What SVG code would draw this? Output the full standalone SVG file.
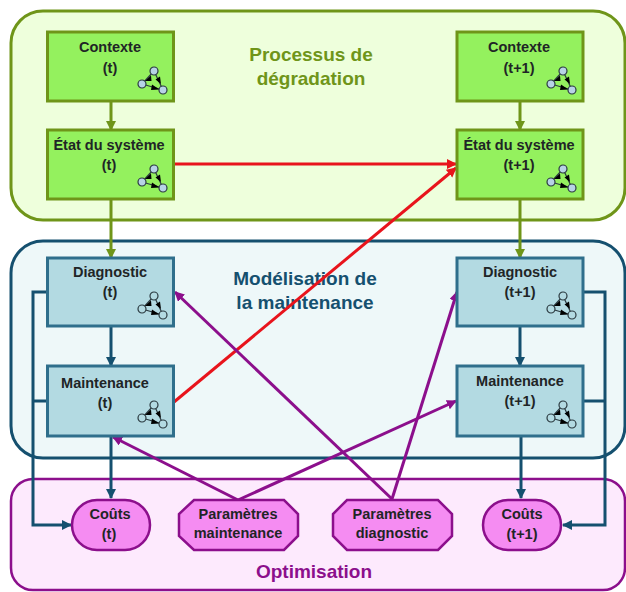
<svg xmlns="http://www.w3.org/2000/svg" width="626" height="592" viewBox="0 0 626 592">
<style>
text{font-family:"Liberation Sans",Arial,sans-serif;font-weight:700;text-anchor:middle}
.n{font-size:14.500px;fill:#1f2526}
.h{font-size:19px}
.b{stroke-width:3px}
.g{fill:#94f15e;stroke:#6f9519}
.t{fill:#b3dae2;stroke:#2f6f8c}
.p{fill:#f58cf2;stroke:#8c0f8c;stroke-width:2.500px}
.ln{fill:none;stroke-width:3px}
.ic{stroke:#2b3a40;stroke-width:1.200px}
</style>
<defs>
<marker id="ao" markerUnits="userSpaceOnUse" markerWidth="12" markerHeight="12" refX="9" refY="5" orient="auto"><path d="M0 0L10 5L0 10Z" fill="#6f9519"/></marker>
<marker id="an" markerUnits="userSpaceOnUse" markerWidth="12" markerHeight="12" refX="9" refY="5" orient="auto"><path d="M0 0L10 5L0 10Z" fill="#15506f"/></marker>
<marker id="ar" markerUnits="userSpaceOnUse" markerWidth="12" markerHeight="12" refX="9" refY="5" orient="auto"><path d="M0 0L10 5L0 10Z" fill="#e8141c"/></marker>
<marker id="ap" markerUnits="userSpaceOnUse" markerWidth="12" markerHeight="12" refX="9" refY="5" orient="auto"><path d="M0 0L10 5L0 10Z" fill="#8c0f8c"/></marker>
<g id="icon">
<path d="M12 1L0 14M12 1L21 20M0 14L21 20" fill="none"/>
<path d="M3 11L9 5.500L9.500 11Z M19 14L13.500 9.500L18 6.500Z M17.500 19.500L9 20L10 14.500Z" fill="#000" stroke="none"/>
<circle cx="12" cy="1" r="4"/><circle cx="0" cy="14" r="4"/><circle cx="21" cy="20" r="4"/>
</g>
</defs>
<g id="panels">
<rect id="panel-degradation" x="11" y="11" width="614" height="209" rx="32" fill="#eeffdc" stroke="#6f9519" stroke-width="3"/>
<rect id="panel-maintenance" x="11" y="241" width="614" height="217" rx="32" fill="#eef8f9" stroke="#15506f" stroke-width="3"/>
<rect id="panel-optimisation" x="11" y="479" width="614" height="111" rx="22" fill="#fdeafd" stroke="#8c0f8c" stroke-width="2.500"/>
<text class="h" x="311" y="61" fill="#6f9519">Processus de</text>
<text class="h" x="311" y="85" fill="#6f9519">dégradation</text>
<text class="h" x="305" y="285" fill="#15506f">Modélisation de</text>
<text class="h" x="305" y="309" fill="#15506f">la maintenance</text>
<text class="h" x="314" y="578" fill="#8c0f8c">Optimisation</text>
</g>
<g id="connectors" class="ln">
<path d="M111 101V130" stroke="#6f9519" marker-end="url(#ao)"/>
<path d="M111 199V258" stroke="#6f9519" marker-end="url(#ao)"/>
<path d="M520 101V130" stroke="#6f9519" marker-end="url(#ao)"/>
<path d="M520 199V258" stroke="#6f9519" marker-end="url(#ao)"/>
<path d="M111 326V366" stroke="#15506f" marker-end="url(#an)"/>
<path d="M111 436V498" stroke="#15506f" marker-end="url(#an)"/>
<path d="M520 326V366" stroke="#15506f" marker-end="url(#an)"/>
<path d="M521 436V498" stroke="#15506f" marker-end="url(#an)"/>
<path d="M47 292H33V525H71" stroke="#15506f" marker-end="url(#an)"/>
<path d="M47 401H33" stroke="#15506f"/>
<path d="M583 292H605V525H563" stroke="#15506f" marker-end="url(#an)"/>
<path d="M583 401H605" stroke="#15506f"/>
<path d="M174 164H456" stroke="#e8141c" marker-end="url(#ar)"/>
<path d="M174 402L456 168" stroke="#e8141c" marker-end="url(#ar)"/>
<path d="M238 500L113 437" stroke="#8c0f8c" marker-end="url(#ap)"/>
<path d="M238 500L456 401" stroke="#8c0f8c" marker-end="url(#ap)"/>
<path d="M392 499L175 292" stroke="#8c0f8c" marker-end="url(#ap)"/>
<path d="M392 499L457 292" stroke="#8c0f8c" marker-end="url(#ap)"/>
</g>
<g id="contexte-t"><rect class="g b" x="47.500" y="32" width="126" height="69"/><text class="n" x="110" y="52">Contexte</text><text class="n" x="110" y="73">(t)</text><use href="#icon" x="142" y="70" fill="#b7d3e6" class="ic"/></g>
<g id="etat-t"><rect class="g b" x="47.500" y="130" width="126" height="69"/><text class="n" x="109" y="150">État du système</text><text class="n" x="109" y="170">(t)</text><use href="#icon" x="142" y="168" fill="#b7d3e6" class="ic"/></g>
<g id="contexte-t1"><rect class="g b" x="457" y="32" width="126" height="69"/><text class="n" x="519" y="52">Contexte</text><text class="n" x="519" y="73">(t+1)</text><use href="#icon" x="551" y="70" fill="#b7d3e6" class="ic"/></g>
<g id="etat-t1"><rect class="g b" x="457" y="130" width="126" height="69"/><text class="n" x="519" y="150">État du système</text><text class="n" x="519" y="170">(t+1)</text><use href="#icon" x="551" y="168" fill="#b7d3e6" class="ic"/></g>
<g id="diagnostic-t"><rect class="t b" x="47.500" y="258" width="126" height="68"/><text class="n" x="110" y="277">Diagnostic</text><text class="n" x="110" y="297">(t)</text><use href="#icon" x="142" y="295" fill="#b3dae2" class="ic"/></g>
<g id="maintenance-t"><rect class="t b" x="47.500" y="366" width="126" height="70"/><text class="n" x="105" y="388">Maintenance</text><text class="n" x="105" y="408">(t)</text><use href="#icon" x="142" y="404" fill="#b3dae2" class="ic"/></g>
<g id="diagnostic-t1"><rect class="t b" x="457" y="258" width="126" height="68"/><text class="n" x="520" y="277">Diagnostic</text><text class="n" x="520" y="297">(t+1)</text><use href="#icon" x="551" y="295" fill="#b3dae2" class="ic"/></g>
<g id="maintenance-t1"><rect class="t b" x="457" y="366" width="126" height="70"/><text class="n" x="520" y="386">Maintenance</text><text class="n" x="520" y="406">(t+1)</text><use href="#icon" x="551" y="404" fill="#b3dae2" class="ic"/></g>
<g id="couts-t"><rect class="p" x="72" y="500" width="78" height="50" rx="25"/><text class="n" x="110" y="519">Coûts</text><text class="n" x="109" y="539">(t)</text></g>
<g id="param-maintenance"><path class="p" d="M194 500H284L298 514V536L284 550H194L179 536V514Z"/><text class="n" x="238" y="519">Paramètres</text><text class="n" x="238" y="538">maintenance</text></g>
<g id="param-diagnostic"><path class="p" d="M347 500H438L452 514V536L438 550H347L333 536V514Z"/><text class="n" x="392" y="519">Paramètres</text><text class="n" x="392" y="538">diagnostic</text></g>
<g id="couts-t1"><rect class="p" x="483" y="500" width="78" height="50" rx="25"/><text class="n" x="522" y="519">Coûts</text><text class="n" x="522" y="539">(t+1)</text></g>
</svg>
